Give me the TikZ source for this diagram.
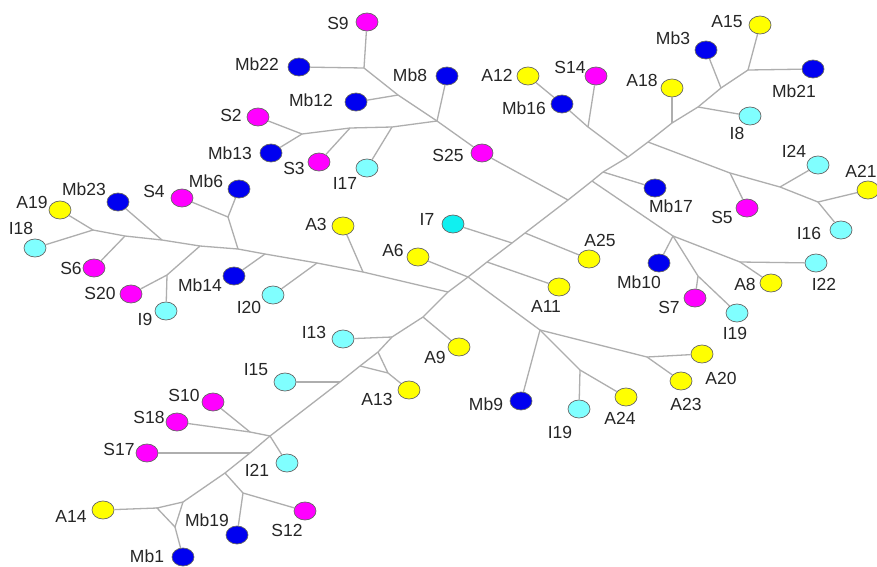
\documentclass[tikz,border=0pt]{standalone}
\usepackage{fontspec}
\setmainfont{Liberation Sans}
\usetikzlibrary{shapes.geometric}
\definecolor{cY}{HTML}{FFFF00}
\definecolor{cB}{HTML}{0000F0}
\definecolor{cM}{HTML}{FF00FF}
\definecolor{cC}{HTML}{80FFFF}
\definecolor{cC2}{HTML}{10F0F0}
\definecolor{edgec}{HTML}{AEAEAE}
\begin{document}
\begin{tikzpicture}[x=1pt,y=-1pt,
  leaf/.style={ellipse,minimum width=22pt,minimum height=18pt,inner sep=0pt,draw=black!60,line width=0.7pt},
  lY/.style={leaf,fill=cY}, lB/.style={leaf,fill=cB}, lM/.style={leaf,fill=cM},
  lC/.style={leaf,fill=cC}, lC2/.style={leaf,fill=cC2},
  lab/.style={font=\fontsize{17.5}{19}\selectfont,text=black!85,inner sep=0pt},
  br/.style={draw=edgec,line width=1.3pt}]
\useasboundingbox (0,0) rectangle (877,566);
\fill[white] (0,0) rectangle (877,566);
% internal points
\coordinate (p1) at (364,68); \coordinate (p2) at (398,95); \coordinate (p3) at (437,121);
\coordinate (p4) at (302,134); \coordinate (p5) at (350,128); \coordinate (p6) at (392,127);
\coordinate (t1) at (748,70); \coordinate (t2) at (721,88); \coordinate (t3) at (698,107);
\coordinate (tA18) at (672,123); \coordinate (tA21) at (648,142); \coordinate (thub) at (628,157);
\coordinate (tMb17) at (603,172); \coordinate (tMb10) at (592,181); \coordinate (tS25) at (568,200);
\coordinate (tA25) at (525,233); \coordinate (tI7) at (512,243); \coordinate (tA11) at (487,262);
\coordinate (tA6) at (468,277); \coordinate (tL) at (448,292); \coordinate (tA9) at (423,317);
\coordinate (tI13) at (392,337); \coordinate (tA13a) at (378,352); \coordinate (tA13b) at (360,366);
\coordinate (tA13c) at (388,373); \coordinate (tI15) at (340,382); \coordinate (tS) at (270,436);
\coordinate (tS17) at (250,453); \coordinate (tMb19) at (225,473); \coordinate (tri1) at (183,502);
\coordinate (tri2) at (157,508); \coordinate (tri3) at (175,527); \coordinate (q1) at (243,493);
\coordinate (q2) at (250,432);
\coordinate (r1) at (730,173); \coordinate (r2) at (780,187); \coordinate (r3) at (818,202);
\coordinate (m1) at (673,236); \coordinate (m2) at (740,262); \coordinate (m3) at (698,276);
\coordinate (s1) at (588,127);
\coordinate (n1) at (540,330); \coordinate (n2) at (580,370); \coordinate (n3) at (647,357);
\coordinate (l1) at (363,272); \coordinate (l2) at (317,263); \coordinate (l4) at (265,254);
\coordinate (l5) at (238,249); \coordinate (l6) at (200,246); \coordinate (l7) at (162,240);
\coordinate (l8) at (125,236); \coordinate (l9) at (93,230); \coordinate (l10) at (228,217);
\coordinate (l11) at (167,275);
% leaves
\node[lM] (S9) at (367,22) {};   \node[lab] at (338,23) {S9};
\node[lB] (Mb22) at (299,67) {}; \node[lab] at (257,64) {Mb22};
\node[lB] (Mb8) at (447,76) {};  \node[lab] at (410,75) {Mb8};
\node[lB] (Mb12) at (356,102) {};\node[lab] at (311,100) {Mb12};
\node[lM] (S2) at (258,117) {};  \node[lab] at (231,115) {S2};
\node[lB] (Mb13) at (271,153) {};\node[lab] at (230,153) {Mb13};
\node[lM] (S3) at (319,162) {};  \node[lab] at (294,168) {S3};
\node[lC] (I17) at (367,168) {}; \node[lab] at (345,183) {I17};
\node[lM] (S25) at (482,153) {}; \node[lab] at (448,155) {S25};
\node[lY] (A15) at (760,25) {};  \node[lab] at (727,22) {A15};
\node[lB] (Mb3) at (706,50) {};  \node[lab] at (673,38) {Mb3};
\node[lB] (Mb21) at (813,69) {}; \node[lab] at (794,91) {Mb21};
\node[lY] (A12) at (528,76) {};  \node[lab] at (497,75) {A12};
\node[lM] (S14) at (596,76) {};  \node[lab] at (570,67) {S14};
\node[lB] (Mb16) at (562,104) {};\node[lab] at (524,108) {Mb16};
\node[lY] (A18) at (672,88) {};  \node[lab] at (642,80) {A18};
\node[lC] (I8) at (750,116) {};  \node[lab] at (737,133) {I8};
\node[lC] (I24) at (818,165) {}; \node[lab] at (794,151) {I24};
\node[lY] (A21) at (868,190) {}; \node[lab] at (861,171) {A21};
\node[lB] (Mb17) at (655,188) {};\node[lab] at (671,206) {Mb17};
\node[lM] (S5) at (747,208) {};  \node[lab] at (722,217) {S5};
\node[lC] (I16) at (841,230) {}; \node[lab] at (809,233) {I16};
\node[lY] (A8) at (771,283) {};  \node[lab] at (745,284) {A8};
\node[lC] (I22) at (816,263) {}; \node[lab] at (824,284) {I22};
\node[lB] (Mb10) at (659,263) {};\node[lab] at (639,282) {Mb10};
\node[lM] (S7) at (695,298) {};  \node[lab] at (669,307) {S7};
\node[lC] (I19r) at (737,313) {};\node[lab] at (735,333) {I19};
\node[lY] (A25) at (589,259) {}; \node[lab] at (600,240) {A25};
\node[lC2] (I7) at (453,224) {}; \node[lab] at (427,219) {I7};
\node[lY] (A6) at (418,257) {};  \node[lab] at (393,250) {A6};
\node[lY] (A11) at (559,287) {}; \node[lab] at (546,306) {A11};
\node[lY] (A3) at (343,226) {};  \node[lab] at (316,224) {A3};
\node[lC] (I20) at (273,295) {}; \node[lab] at (249,307) {I20};
\node[lY] (A19) at (60,210) {};  \node[lab] at (32,202) {A19};
\node[lB] (Mb23) at (118,202) {};\node[lab] at (84,189) {Mb23};
\node[lM] (S4) at (182,198) {};  \node[lab] at (154,191) {S4};
\node[lB] (Mb6) at (239,189) {}; \node[lab] at (206,181) {Mb6};
\node[lC] (I18) at (35,248) {};  \node[lab] at (21,228) {I18};
\node[lM] (S6) at (94,268) {};   \node[lab] at (71,268) {S6};
\node[lM] (S20) at (131,294) {}; \node[lab] at (100,293) {S20};
\node[lC] (I9) at (166,311) {};  \node[lab] at (145,319) {I9};
\node[lB] (Mb14) at (234,276) {};\node[lab] at (200,285) {Mb14};
\node[lC] (I13) at (343,339) {}; \node[lab] at (314,332) {I13};
\node[lY] (A9) at (459,347) {};  \node[lab] at (435,357) {A9};
\node[lC] (I15) at (285,382) {}; \node[lab] at (256,370) {I15};
\node[lY] (A13) at (409,390) {}; \node[lab] at (377,399) {A13};
\node[lB] (Mb9) at (521,401) {}; \node[lab] at (486,404) {Mb9};
\node[lC] (I19l) at (579,409) {};\node[lab] at (560,432) {I19};
\node[lY] (A24) at (626,397) {}; \node[lab] at (620,418) {A24};
\node[lY] (A23) at (681,381) {}; \node[lab] at (686,404) {A23};
\node[lY] (A20) at (702,354) {}; \node[lab] at (721,378) {A20};
\node[lM] (S10) at (213,402) {}; \node[lab] at (184,395) {S10};
\node[lM] (S18) at (177,422) {}; \node[lab] at (149,417) {S18};
\node[lM] (S17) at (147,453) {}; \node[lab] at (119,449) {S17};
\node[lC] (I21) at (287,463) {}; \node[lab] at (257,470) {I21};
\node[lY] (A14) at (103,510) {}; \node[lab] at (71,516) {A14};
\node[lB] (Mb19) at (237,535) {};\node[lab] at (207,520) {Mb19};
\node[lM] (S12) at (305,511) {}; \node[lab] at (287,530) {S12};
\node[lB] (Mb1) at (183,557) {}; \node[lab] at (147,556) {Mb1};
% branches
\draw[br] (S9) -- (p1); \draw[br] (Mb22) -- (p1);
\draw[br] (p1) -- (p2) -- (p3); \draw[br] (Mb12) -- (p2); \draw[br] (Mb8) -- (p3);
\draw[br] (p3) -- (p6) -- (p5) -- (p4); \draw[br] (S2) -- (p4); \draw[br] (Mb13) -- (p4);
\draw[br] (p5) -- (S3); \draw[br] (p6) -- (I17);
\draw[br] (p3) -- (S25); \draw[br] (S25) -- (tS25);
% trunk
\draw[br] (t1) -- (t2) -- (t3) -- (tA18) -- (tA21) -- (thub) -- (tMb17) -- (tMb10) -- (tS25)
  -- (tA25) -- (tI7) -- (tA11) -- (tA6) -- (tL) -- (tA9) -- (tI13) -- (tA13a) -- (tA13b)
  -- (tI15) -- (tS) -- (tS17) -- (tMb19) -- (tri1);
\draw[br] (A15) -- (t1); \draw[br] (Mb21) -- (t1); \draw[br] (Mb3) -- (t2);
\draw[br] (I8) -- (t3); \draw[br] (A18) -- (tA18);
\draw[br] (A12) -- (Mb16); \draw[br] (Mb16) -- (s1) -- (thub); \draw[br] (S14) -- (s1);
\draw[br] (tA21) -- (r1) -- (r2) -- (r3); \draw[br] (r3) -- (A21); \draw[br] (r3) -- (I16);
\draw[br] (r2) -- (I24); \draw[br] (r1) -- (S5);
\draw[br] (tMb17) -- (Mb17);
\draw[br] (tMb10) -- (m1) -- (m2); \draw[br] (m2) -- (A8); \draw[br] (m2) -- (I22);
\draw[br] (m1) -- (Mb10); \draw[br] (m1) -- (m3); \draw[br] (m3) -- (S7); \draw[br] (m3) -- (I19r);
\draw[br] (tA25) -- (A25); \draw[br] (I7) -- (tI7); \draw[br] (tA11) -- (A11);
\draw[br] (A6) -- (tA6) -- (n1); \draw[br] (n1) -- (Mb9);
\draw[br] (n1) -- (n2) -- (A24); \draw[br] (n2) -- (I19l);
\draw[br] (n1) -- (n3) -- (A20); \draw[br] (n3) -- (A23);
% left branch
\draw[br] (tL) -- (l1) -- (l2) -- (l4) -- (l5) -- (l6) -- (l7) -- (l8) -- (l9);
\draw[br] (l1) -- (A3); \draw[br] (l2) -- (I20); \draw[br] (l4) -- (Mb14);
\draw[br] (l5) -- (l10); \draw[br] (l10) -- (Mb6); \draw[br] (l10) -- (S4);
\draw[br] (l6) -- (l11); \draw[br] (l11) -- (S20); \draw[br] (l11) -- (I9);
\draw[br] (l7) -- (Mb23); \draw[br] (l8) -- (S6); \draw[br] (l9) -- (A19); \draw[br] (l9) -- (I18);
% lower part
\draw[br] (tA9) -- (A9); \draw[br] (tI13) -- (I13);
\draw[br] (tA13a) -- (tA13c) -- (tA13b); \draw[br] (tA13c) -- (A13);
\draw[br] (tI15) -- (I15);
\draw[br] (S18) -- (q2) -- (tS); \draw[br] (S10) -- (q2); \draw[br] (tS) -- (I21);
\draw[br] (tS17) -- (S17);
\draw[br] (tMb19) -- (q1); \draw[br] (q1) -- (S12); \draw[br] (q1) -- (Mb19);
\draw[br] (tri1) -- (tri2) -- (tri3) -- cycle; \draw[br] (A14) -- (tri2); \draw[br] (tri3) -- (Mb1);
\end{tikzpicture}
\end{document}
